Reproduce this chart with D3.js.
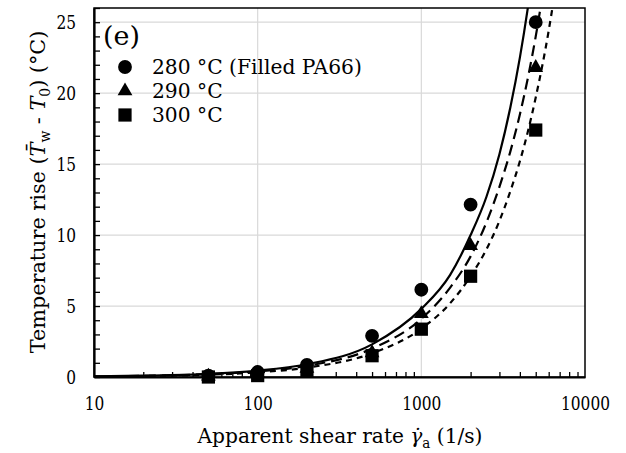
<!DOCTYPE html>
<html><head><meta charset="utf-8">
<script src="https://cdn.jsdelivr.net/npm/d3@7"></script>
<style>
body{margin:0;background:#fff;}
svg{display:block;}
</style></head>
<body>
<svg id="chart" width="626" height="453" font-family="'DejaVu Serif', serif"></svg>
<script>
// ---- data ----
const shearRates = [50, 100, 200, 500, 1000, 2000, 5000];
const rise280 = [0.1, 0.35, 0.85, 2.9, 6.15, 12.15, 25.0];
const rise290 = [0.05, 0.25, 0.6, 1.7, 4.45, 9.25, 21.8];
const rise300 = [0.0, 0.1, 0.45, 1.5, 3.37, 7.1, 17.4];

const fitRates = [10, 20, 50, 100, 200, 500, 1000, 1500, 2000, 2500, 3000, 3500, 4000, 4500, 5000, 6000, 7000];
const fit280 = [0.04, 0.09, 0.22, 0.45, 0.9, 2.3, 4.8, 7.2, 10.0, 12.7, 15.7, 19.0, 22.5, 26.2, 30.0, 38, 46];
const fit290 = [0.04, 0.08, 0.2, 0.39, 0.79, 2.0, 4.1, 6.3, 8.5, 10.9, 13.4, 15.9, 18.5, 21.2, 24.0, 29.9, 36];
const fit300 = [0.03, 0.07, 0.16, 0.33, 0.66, 1.67, 3.4, 5.2, 7.1, 9.0, 11.0, 13.1, 15.2, 17.4, 19.7, 24.4, 29.4];

const xTickValues = [10, 100, 1000, 10000];
const yTickValues = [0, 5, 10, 15, 20, 25];
const legendLabels = ["280 °C (Filled PA66)", "290 °C", "300 °C"];

// ---- layout ----
const svg = d3.select("#chart");
const L = 94, R = 585, T = 8, B = 377;
const x = d3.scaleLog().domain([10, 10000]).range([L, R]);
const y = d3.scaleLinear().domain([0, 26]).range([B, T]);
const TICK_SX = 0.81;   // narrow DejaVu Serif toward Times-like proportions

svg.append("defs").append("clipPath").attr("id", "plotclip")
  .append("rect").attr("x", L).attr("y", T).attr("width", R - L).attr("height", B - T);

// grid
const grid = svg.append("g");
xTickValues.slice(1, -1).forEach(v => {
  grid.append("line").attr("x1", x(v)).attr("x2", x(v)).attr("y1", T).attr("y2", B)
    .attr("stroke", "#d9d9d9").attr("stroke-width", 1.2);
});
yTickValues.slice(1).forEach(v => {
  grid.append("line").attr("x1", L).attr("x2", R).attr("y1", y(v)).attr("y2", y(v))
    .attr("stroke", "#d9d9d9").attr("stroke-width", 1.2);
});

// minor ticks (inside)
const xMinor = [];
[10, 100, 1000].forEach(d => { for (let k = 2; k <= 9; k++) xMinor.push(d * k); });
const gxm = svg.append("g").attr("transform", `translate(0,${B})`)
  .call(d3.axisBottom(x).tickValues(xMinor).tickSize(-5).tickFormat(""));
gxm.select(".domain").remove();
gxm.selectAll("line").attr("stroke", "#000").attr("stroke-width", 1.3);

const gym = svg.append("g").attr("transform", `translate(${L},0)`)
  .call(d3.axisLeft(y).tickValues(d3.range(0, 27)).tickSize(-6).tickFormat(""));
gym.select(".domain").remove();
gym.selectAll("line").attr("stroke", "#000").attr("stroke-width", 1.3);

// frame
svg.append("rect").attr("x", L).attr("y", T).attr("width", R - L).attr("height", B - T)
  .attr("fill", "none").attr("stroke", "#000").attr("stroke-width", 1.5);

// axes with labels
const gx = svg.append("g").attr("transform", `translate(0,${B})`)
  .call(d3.axisBottom(x).tickValues(xTickValues).tickSize(0).tickPadding(0).tickFormat(d3.format("d")));
gx.attr("font-family", null).attr("font-size", null);
gx.select(".domain").attr("stroke", "#000").attr("stroke-width", 2.2);
gx.selectAll("text").attr("fill", "#000").attr("font-size", 19).attr("dy", null).attr("y", 0)
  .attr("transform", `translate(0,33) scale(${TICK_SX},1)`);

const gy = svg.append("g").attr("transform", `translate(${L},0)`)
  .call(d3.axisLeft(y).tickValues(yTickValues).tickSize(0).tickPadding(0).tickFormat(d3.format("d")));
gy.attr("font-family", null).attr("font-size", null);
gy.select(".domain").attr("stroke", "#000").attr("stroke-width", 2.2);
gy.selectAll("text").attr("fill", "#000").attr("font-size", 19).attr("x", 0).attr("dy", "0.35em")
  .attr("transform", `translate(-18,0) scale(${TICK_SX},1)`);

// fitted curves
const plot = svg.append("g").attr("clip-path", "url(#plotclip)");
const line = d3.line().x(d => x(d[0])).y(d => y(d[1])).curve(d3.curveMonotoneX);
[{ vals: fit280, dash: null }, { vals: fit290, dash: "11,6" }, { vals: fit300, dash: "6,5" }].forEach(f => {
  plot.append("path").datum(fitRates.map((r, i) => [r, f.vals[i]]))
    .attr("d", line).attr("fill", "none").attr("stroke", "#000").attr("stroke-width", 2.2)
    .attr("stroke-dasharray", f.dash);
});

// markers
const symCircle = d3.symbol().type(d3.symbolCircle).size(150);
const symTri = d3.symbol().type(d3.symbolTriangle).size(95);
const symSq = d3.symbol().type(d3.symbolSquare).size(175);
const series = [{ vals: rise280, sym: symCircle }, { vals: rise290, sym: symTri }, { vals: rise300, sym: symSq }];
series.forEach(s => {
  svg.append("g").selectAll("path").data(shearRates.map((r, i) => [r, s.vals[i]])).join("path")
    .attr("d", s.sym()).attr("transform", d => `translate(${x(d[0])},${y(d[1])})`).attr("fill", "#000");
});

// helper: place text in a group and squeeze it horizontally to a target width
function fitted(transform, size, anchor, targetWidth, build) {
  const g = svg.append("g").attr("transform", transform);
  const inner = g.append("g");
  const t = inner.append("text").attr("font-size", size).attr("text-anchor", anchor).attr("fill", "#000");
  build(t);
  const w = t.node().getBBox().width;
  const s = targetWidth ? targetWidth / w : TICK_SX;
  inner.attr("transform", `scale(${s},1)`);
  return { g, s };
}

// panel label
fitted("translate(103,45)", 26, "start", 37, t => t.text("(e)"));

// legend
const legY = [67, 91, 115];
series.forEach((s, i) => {
  svg.append("path").attr("d", s.sym()).attr("transform", `translate(125,${legY[i]})`).attr("fill", "#000");
});
const leg0 = fitted(`translate(152,${legY[0] + 7})`, 20, "start", 210, t => t.text(legendLabels[0]));
for (let i = 1; i < legendLabels.length; i++) {
  const g = svg.append("g").attr("transform", `translate(152,${legY[i] + 7}) scale(${leg0.s},1)`);
  g.append("text").attr("font-size", 20).attr("fill", "#000").text(legendLabels[i]);
}

// x title
fitted("translate(340,443)", 21, "middle", 286, t => {
  t.append("tspan").text("Apparent shear rate ");
  t.append("tspan").attr("font-style", "italic").text("\u03B3\u0307");
  t.append("tspan").attr("dy", 5).attr("font-size", 14).text("a");
  t.append("tspan").attr("dy", -5).text(" (1/s)");
});

// y title
fitted("translate(45,192) rotate(-90)", 21, "middle", 323, t => {
  t.append("tspan").text("Temperature rise (");
  t.append("tspan").attr("font-style", "italic").text("T\u0304");
  t.append("tspan").attr("dy", 5).attr("font-size", 14).text("w");
  t.append("tspan").attr("dy", -5).text(" - ");
  t.append("tspan").attr("font-style", "italic").text("T");
  t.append("tspan").attr("dy", 5).attr("font-size", 14).text("0");
  t.append("tspan").attr("dy", -5).text(") (°C)");
});
</script>
</body></html>
